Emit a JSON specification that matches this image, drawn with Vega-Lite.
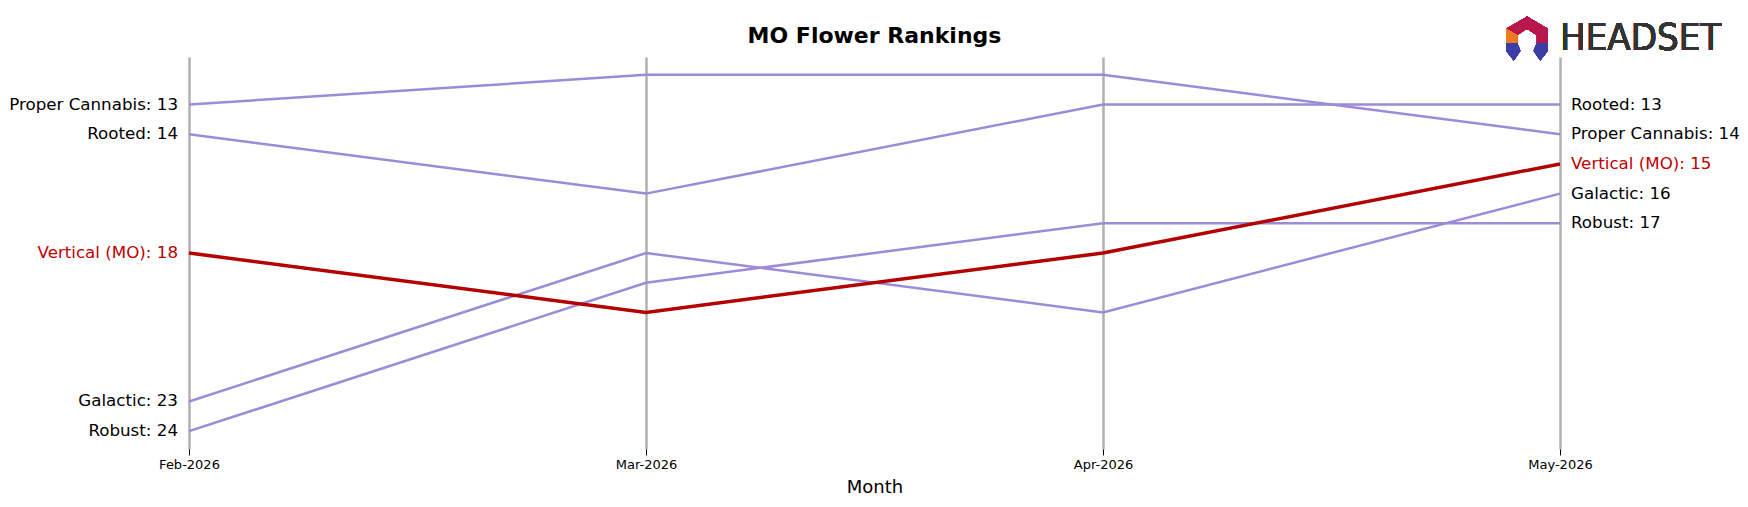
{
  "$schema": "https://vega.github.io/schema/vega-lite/v6.json",
  "autosize": "none",
  "width": 1371,
  "height": 392,
  "padding": {"left": 189, "top": 57, "right": 188, "bottom": 58},
  "background": "white",
  "config": {"view": {"stroke": null}, "font": "DejaVu Sans"},
  "title": {"text": "MO Flower Rankings", "frame": "group", "anchor": "middle", "fontSize": 22, "fontWeight": "bold", "font": "DejaVu Sans", "color": "black", "offset": 0, "dy": 48, "baseline": "alphabetic"},
  "data": {"values": [
    {"month": "Feb-2026", "brand": "Proper Cannabis", "rank": 13},
    {"month": "Mar-2026", "brand": "Proper Cannabis", "rank": 12},
    {"month": "Apr-2026", "brand": "Proper Cannabis", "rank": 12},
    {"month": "May-2026", "brand": "Proper Cannabis", "rank": 14},
    {"month": "Feb-2026", "brand": "Rooted", "rank": 14},
    {"month": "Mar-2026", "brand": "Rooted", "rank": 16},
    {"month": "Apr-2026", "brand": "Rooted", "rank": 13},
    {"month": "May-2026", "brand": "Rooted", "rank": 13},
    {"month": "Feb-2026", "brand": "Vertical (MO)", "rank": 18},
    {"month": "Mar-2026", "brand": "Vertical (MO)", "rank": 20},
    {"month": "Apr-2026", "brand": "Vertical (MO)", "rank": 18},
    {"month": "May-2026", "brand": "Vertical (MO)", "rank": 15},
    {"month": "Feb-2026", "brand": "Galactic", "rank": 23},
    {"month": "Mar-2026", "brand": "Galactic", "rank": 18},
    {"month": "Apr-2026", "brand": "Galactic", "rank": 20},
    {"month": "May-2026", "brand": "Galactic", "rank": 16},
    {"month": "Feb-2026", "brand": "Robust", "rank": 24},
    {"month": "Mar-2026", "brand": "Robust", "rank": 19},
    {"month": "Apr-2026", "brand": "Robust", "rank": 17},
    {"month": "May-2026", "brand": "Robust", "rank": 17}
  ]},
  "encoding": {
    "x": {"field": "month", "type": "ordinal", "sort": ["Feb-2026", "Mar-2026", "Apr-2026", "May-2026"],
      "scale": {"type": "point", "padding": 0},
      "axis": {"title": "Month", "titleFontSize": 18, "titleFontWeight": "normal", "titleColor": "black", "titlePadding": 7,
        "labelAngle": 0, "labelFontSize": 13, "labelColor": "black", "labelPadding": 3,
        "tickColor": "black", "tickSize": 6, "tickWidth": 1, "domain": false,
        "grid": true, "gridColor": "#b0b0b0", "gridWidth": 2.5}},
    "y": {"field": "rank", "type": "quantitative", "scale": {"domain": [11.4, 24.6], "reverse": true, "zero": false, "nice": false}, "axis": null}
  },
  "layer": [
    {"transform": [{"filter": "datum.brand !== 'Vertical (MO)'"}],
     "mark": {"type": "line", "color": "#9b8bd9", "strokeWidth": 2.5},
     "encoding": {"detail": {"field": "brand"}}},
    {"transform": [{"filter": "datum.brand === 'Vertical (MO)'"}],
     "mark": {"type": "line", "color": "#b30000", "strokeWidth": 3.5},
     "encoding": {"detail": {"field": "brand"}}},
    {"transform": [{"filter": "datum.month === 'Feb-2026'"}, {"calculate": "datum.brand + ': ' + datum.rank", "as": "label"}],
     "mark": {"type": "text", "align": "right", "baseline": "middle", "dx": -11, "fontSize": 16.7, "font": "DejaVu Sans"},
     "encoding": {"text": {"field": "label"},
       "color": {"condition": {"test": "datum.brand === 'Vertical (MO)'", "value": "#c00000"}, "value": "black"}}},
    {"transform": [{"filter": "datum.month === 'May-2026'"}, {"calculate": "datum.brand + ': ' + datum.rank", "as": "label"}],
     "mark": {"type": "text", "align": "left", "baseline": "middle", "dx": 11, "fontSize": 16.7, "font": "DejaVu Sans"},
     "encoding": {"text": {"field": "label"},
       "color": {"condition": {"test": "datum.brand === 'Vertical (MO)'", "value": "#c00000"}, "value": "black"}}},
    {"mark": {"type": "text", "align": "left", "baseline": "middle", "fontSize": 38, "font": "'DejaVu Sans Condensed', 'DejaVu Sans'", "color": "#333333", "text": "HEADSET"},
     "encoding": {"x": {"datum": "May-2026"}, "y": {"datum": 10.8}}},
    {"mark": {"type": "point", "filled": true, "opacity": 1, "strokeWidth": 0, "size": 1936, "xOffset": -33, "color": "#b8174c",
       "shape": "M-0.95,-0.45 L0,-1 L0.95,-0.45 L0.95,0.2 L0.45,0.2 L0.45,-0.15 L0,-0.45 L-0.45,-0.15 L-0.45,0.2 L-0.95,0.2 Z"},
     "encoding": {"x": {"datum": "May-2026"}, "y": {"datum": 10.78}}},
    {"mark": {"type": "point", "filled": true, "opacity": 1, "strokeWidth": 0, "size": 1936, "xOffset": -33, "color": "#f07a24",
       "shape": "M-0.95,-0.45 L-0.45,-0.15 L-0.45,0.2 L-0.95,0.2 Z"},
     "encoding": {"x": {"datum": "May-2026"}, "y": {"datum": 10.78}}},
    {"mark": {"type": "point", "filled": true, "opacity": 1, "strokeWidth": 0, "size": 1936, "xOffset": -33, "color": "#3a3ea6",
       "shape": "M-0.95,0.2 L-0.45,0.2 L-0.3,0.55 L-0.6,1 L-0.95,0.55 Z M0.95,0.2 L0.45,0.2 L0.3,0.55 L0.6,1 L0.95,0.55 Z"},
     "encoding": {"x": {"datum": "May-2026"}, "y": {"datum": 10.78}}}
  ]
}
